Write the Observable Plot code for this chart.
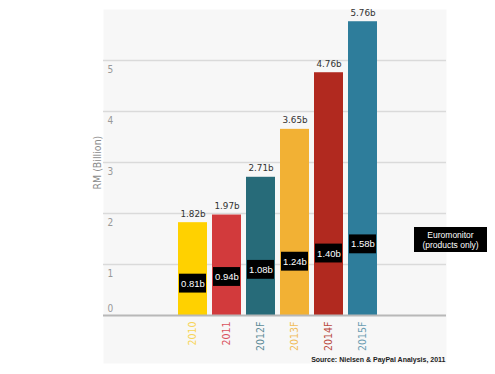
<!DOCTYPE html>
<html>
<head>
<meta charset="utf-8">
<script src="https://cdn.jsdelivr.net/npm/d3@7"></script>
<script src="https://cdn.jsdelivr.net/npm/@observablehq/plot@0.6"></script>
<style>
  html, body { margin: 0; padding: 0; background: #fff; }
  svg { display: block; }
</style>
</head>
<body>
<div id="chart"></div>
<script>
const years = ["2010", "2011", "2012F", "2013F", "2014F", "2015F"];
const totalValues = [1.82, 1.97, 2.71, 3.65, 4.76, 5.76];
const productValues = [0.81, 0.94, 1.08, 1.24, 1.40, 1.58];
const totalLabels = ["1.82b", "1.97b", "2.71b", "3.65b", "4.76b", "5.76b"];
const productLabels = ["0.81b", "0.94b", "1.08b", "1.24b", "1.40b", "1.58b"];
const barColors = ["#FFD100", "#D23A3C", "#276B79", "#F2B134", "#B1291F", "#2E7D9B"];
const labelColors = ["#F7D558", "#D9535E", "#5E8C97", "#F1BC5A", "#BA4A42", "#6C9DB2"];
const yTicks = [0, 1, 2, 3, 4, 5];
const yLabel = "RM (Billion)";
const sourceText = "Source: Nielsen & PayPal Analysis, 2011";
const noteLines = ["Euromonitor", "(products only)"];

const data = years.map((y, i) => ({
  year: y, total: totalValues[i], product: productValues[i],
  totalLabel: totalLabels[i], productLabel: productLabels[i],
  color: barColors[i], labelColor: labelColors[i]
}));

const boxH = 0.37;
const narrow = "'Liberation Sans Narrow', 'DejaVu Sans Condensed', 'Roboto Condensed', sans-serif";

const chart = Plot.plot({
  width: 495,
  height: 374,
  marginLeft: 103,
  marginRight: 49,
  marginTop: 9,
  marginBottom: 11,
  x: {type: "band", domain: years, range: [171.4, 383.6], paddingInner: 0.133, paddingOuter: 0.133, align: 0.5, axis: null},
  y: {domain: [0, 6], range: [315, 9], axis: null},
  marks: [
    Plot.frame({fill: "url(#dots)", stroke: null}),
    Plot.ruleY(yTicks.filter(d => d > 0), {stroke: "#dadada", strokeWidth: 1.5}),
    Plot.barY(data, {x: "year", y: "total", fill: d => d.color}),
    Plot.ruleY([0], {stroke: "#b8b8b8", strokeWidth: 2}),
    Plot.barY(data, {x: "year", y1: "product", y2: d => d.product - boxH, fill: "#000", insetLeft: 1, insetRight: 1}),
    Plot.text(data, {x: "year", y: d => d.product - boxH / 2, text: "productLabel", fill: "#fff", fontSize: 9.5, fontFamily: "'Liberation Sans', Arial, sans-serif"}),
    Plot.text(data, {x: "year", y: "total", text: "totalLabel", dy: -9, fill: "#333", fontSize: 8.8, fontFamily: "'DejaVu Sans', sans-serif"}),
    Plot.text(yTicks.filter(d => d > 0), {y: d => d, text: d => String(d), frameAnchor: "left", dx: 4, dy: 9, textAnchor: "start", fill: "#999", fontSize: 10, fontFamily: narrow}),
    Plot.text(yTicks.filter(d => d === 0), {y: d => d, text: d => String(d), frameAnchor: "left", dx: 4, dy: -7, textAnchor: "start", fill: "#999", fontSize: 10, fontFamily: narrow}),
    Plot.text([yLabel], {y: 2.47, text: d => d, frameAnchor: "left", dx: -6, rotate: -90, fill: "#8a8a8a", fontSize: 10.5, fontFamily: narrow}),
    Plot.text(data, {x: "year", y: 0, text: "year", rotate: -90, textAnchor: "end", dy: 6, fill: d => d.labelColor, fontSize: 10.5, fontFamily: narrow}),
    Plot.text([sourceText], {text: d => d, frameAnchor: "bottom-right", dx: -1, dy: -2, fill: "#222", fontSize: 7, fontWeight: "bold", fontFamily: "'Liberation Sans', Arial, sans-serif"})
  ]
});

const svg = d3.select(chart);
const defs = svg.insert("defs", ":first-child");
const pat = defs.append("pattern").attr("id", "dots").attr("width", 2).attr("height", 2).attr("patternUnits", "userSpaceOnUse");
pat.append("rect").attr("width", 2).attr("height", 2).attr("fill", "#f9f9f9");
pat.append("rect").attr("width", 1).attr("height", 1).attr("fill", "#efefef");

const note = svg.append("g").attr("font-family", "'Liberation Sans', Arial, sans-serif").attr("font-size", 8.5).attr("fill", "#fff").attr("text-anchor", "middle");
note.append("rect").attr("x", 414).attr("y", 227).attr("width", 73).attr("height", 25).attr("fill", "#000");
noteLines.forEach((t, i) => note.append("text").attr("x", 450.5).attr("y", 237.5 + i * 10).text(t));

document.getElementById("chart").appendChild(chart);
</script>
</body>
</html>
